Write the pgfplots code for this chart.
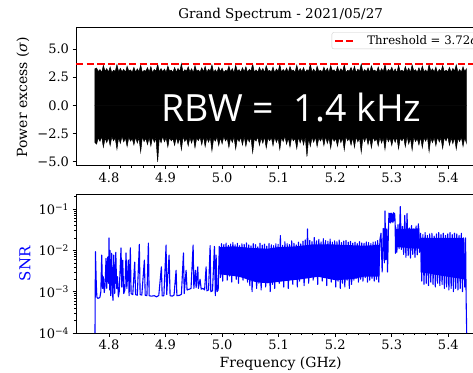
\documentclass[border=0pt]{standalone}
\usepackage{fontspec}
\setmainfont{DejaVu Serif}
\newfontfamily\rbwfont{Open Sans}
\usepackage{pgfplots}
\pgfplotsset{compat=1.18}
\usepackage{pgfplotstable}

\pgfplotstableread{
x u l
4.775 3.25 -3.30
4.778 3.32 -3.45
4.781 3.00 -2.88
4.784 3.18 -3.20
4.787 2.92 -2.78
4.790 3.55 -3.72
4.793 3.04 -2.92
4.796 3.26 -3.31
4.799 2.97 -2.85
4.802 3.41 -3.58
4.805 2.90 -2.80
4.808 3.12 -3.15
4.811 3.02 -2.90
4.814 3.62 -3.90
4.817 2.96 -2.84
4.820 3.29 -3.38
4.823 2.99 -2.76
4.826 3.20 -3.25
4.829 2.93 -2.89
4.832 3.47 -3.66
4.835 3.05 -2.83
4.838 3.15 -3.18
4.841 2.94 -2.95
4.844 3.38 -3.52
4.847 2.95 -2.82
4.850 3.24 -3.35
4.853 3.00 -2.88
4.856 3.58 -4.15
4.859 2.92 -2.78
4.862 3.11 -3.22
4.865 3.04 -2.92
4.868 3.35 -3.48
4.871 2.97 -2.85
4.874 3.44 -3.62
4.877 2.90 -2.80
4.880 3.19 -3.28
4.883 3.02 -2.90
4.886 3.66 -5.02
4.889 2.96 -2.84
4.892 3.27 -3.33
4.895 2.99 -2.76
4.898 3.22 -3.24
4.901 2.93 -2.89
4.904 3.50 -3.70
4.907 3.05 -2.83
4.910 3.13 -3.16
4.913 2.94 -2.95
4.916 3.36 -3.55
4.919 2.95 -2.82
4.922 3.28 -3.40
4.925 3.00 -2.88
4.928 3.70 -3.95
4.931 2.92 -2.78
4.934 3.17 -3.21
4.937 3.04 -2.92
4.940 3.42 -3.60
4.943 2.97 -2.85
4.946 3.25 -3.36
4.949 2.90 -2.80
4.952 3.53 -3.78
4.955 3.02 -2.90
4.958 3.14 -3.14
4.961 2.96 -2.84
4.964 3.33 -3.50
4.967 2.99 -2.76
4.970 3.46 -3.68
4.973 2.93 -2.89
4.976 3.21 -3.27
4.979 3.05 -2.83
4.982 3.60 -4.05
4.985 2.94 -2.95
4.988 3.16 -3.19
4.991 2.95 -2.82
4.994 3.39 -3.57
4.997 3.00 -2.88
5.000 3.30 -3.42
5.003 2.92 -2.78
5.006 3.12 -3.17
5.009 3.04 -2.92
5.012 3.49 -3.75
5.015 2.97 -2.85
5.018 3.26 -3.30
5.021 2.90 -2.80
5.024 3.57 -3.88
5.027 3.02 -2.90
5.030 3.18 -3.23
5.033 2.96 -2.84
5.036 3.34 -3.53
5.039 2.99 -2.76
5.042 3.43 -3.64
5.045 2.93 -2.89
5.048 3.20 -3.26
5.051 3.05 -2.83
5.054 3.68 -4.20
5.057 2.94 -2.95
5.060 3.15 -3.18
5.063 2.95 -2.82
5.066 3.37 -3.56
5.069 3.00 -2.88
5.072 3.28 -3.37
5.075 2.92 -2.78
5.078 3.52 -3.80
5.081 3.04 -2.92
5.084 3.12 -3.15
5.087 2.97 -2.85
5.090 3.40 -3.59
5.093 2.90 -2.80
5.096 3.23 -3.29
5.099 3.02 -2.90
5.102 3.61 -3.92
5.105 2.96 -2.84
5.108 3.19 -3.22
5.111 2.99 -2.76
5.114 3.31 -3.46
5.117 2.93 -2.89
5.120 3.45 -3.71
5.123 3.05 -2.83
5.126 3.14 -3.16
5.129 2.94 -2.95
5.132 3.56 -3.85
5.135 2.95 -2.82
5.138 3.27 -3.34
5.141 3.00 -2.88
5.144 3.35 -3.51
5.147 2.92 -2.78
5.150 3.17 -4.55
5.153 3.04 -2.92
5.156 3.64 -3.64
5.159 2.97 -2.85
5.162 3.22 -3.28
5.165 2.90 -2.80
5.168 3.48 -3.67
5.171 3.02 -2.90
5.174 3.13 -3.17
5.177 2.96 -2.84
5.180 3.39 -3.58
5.183 2.99 -2.76
5.186 3.29 -3.39
5.189 2.93 -2.89
5.192 3.54 -3.82
5.195 3.05 -2.83
5.198 3.16 -3.20
5.201 2.94 -2.95
5.204 3.44 -3.63
5.207 2.95 -2.82
5.210 3.25 -3.32
5.213 3.00 -2.88
5.216 3.59 -3.97
5.219 2.92 -2.78
5.222 3.11 -3.15
5.225 3.04 -2.92
5.228 3.36 -3.54
5.231 2.97 -2.85
5.234 3.47 -3.74
5.237 2.90 -2.80
5.240 3.21 -3.25
5.243 3.02 -2.90
5.246 3.66 -4.18
5.249 2.96 -2.84
5.252 3.18 -3.23
5.255 2.99 -2.76
5.258 3.33 -3.49
5.261 2.93 -2.89
5.264 3.51 -3.79
5.267 3.05 -2.83
5.270 3.14 -3.18
5.273 2.94 -2.95
5.276 3.41 -3.61
5.279 2.95 -2.82
5.282 3.26 -3.35
5.285 3.00 -2.88
5.288 3.62 -3.93
5.291 2.92 -2.78
5.294 3.19 -3.24
5.297 3.04 -2.92
5.300 3.38 -3.57
5.303 2.97 -2.85
5.306 3.23 -3.30
5.309 2.90 -2.80
5.312 3.55 -3.86
5.315 3.02 -2.90
5.318 3.12 -3.16
5.321 2.96 -2.84
5.324 3.45 -3.69
5.327 2.99 -2.76
5.330 3.30 -3.44
5.333 2.93 -2.89
5.336 3.58 -3.99
5.339 3.05 -2.83
5.342 3.17 -3.22
5.345 2.94 -2.95
5.348 3.34 -3.52
5.351 2.95 -2.82
5.354 3.49 -3.77
5.357 3.00 -2.88
5.360 3.15 -3.19
5.363 2.92 -2.78
5.366 3.63 -4.12
5.369 3.04 -2.92
5.372 3.24 -3.31
5.375 2.97 -2.85
5.378 3.40 -3.60
5.381 2.90 -2.80
5.384 3.20 -3.26
5.387 3.02 -2.90
5.390 3.53 -3.83
5.393 2.96 -2.84
5.396 3.13 -3.17
5.399 2.99 -2.76
5.402 3.37 -3.55
5.405 2.93 -2.89
5.408 3.28 -3.41
5.411 3.05 -2.83
5.414 3.60 -3.90
5.417 2.94 -2.95
5.420 3.18 -3.22
5.423 2.95 -2.82
5.426 3.43 -3.65
5.429 3.00 -2.88
5.432 3.25 -3.36
}\topdata

\pgfplotstableread{
x y
4.7752 1.0e-4
4.7760 9.3e-3
4.7775 1.5e-3
4.7785 7.5e-4
4.7800 6.9e-4
4.7820 7.0e-4
4.7840 7.4e-4
4.7855 1.0e-3
4.7871 7.7e-3
4.7885 1.2e-3
4.7900 2.3e-3
4.7915 9.5e-4
4.7930 1.4e-3
4.7947 6.4e-3
4.7960 1.2e-3
4.7976 6.9e-3
4.7990 1.6e-3
4.8000 2.0e-2
4.8012 1.1e-3
4.8018 1.0e-2
4.8030 8.0e-4
4.8047 8.5e-3
4.8060 1.0e-3
4.8070 6.2e-4
4.8083 7.7e-3
4.8100 9.0e-4
4.8120 9.0e-3
4.8135 1.2e-3
4.8150 2.3e-3
4.8165 7.5e-4
4.8180 1.0e-3
4.8212 1.15e-2
4.8225 1.3e-3
4.8242 5.8e-3
4.8260 9.0e-4
4.8280 1.1e-3
4.8301 8.7e-3
4.8315 1.2e-3
4.8342 5.8e-3
4.8355 8.0e-4
4.8377 1.15e-2
4.8390 9.0e-4
4.8420 8.5e-4
4.8454 5.2e-3
4.8470 8.5e-4
4.8500 8.2e-4
4.8536 1.4e-2
4.8550 8.5e-4
4.8580 8.3e-4
4.8625 5.8e-3
4.8640 8.2e-4
4.8670 8.0e-4
4.8696 1.5e-2
4.8710 8.0e-4
4.8750 7.8e-4
4.8800 8.0e-4
4.8840 7.5e-4
4.8880 8.1e-4
4.8926 4.0e-3
4.8940 7.9e-4
4.8970 8.0e-4
4.9009 1.35e-2
4.9020 8.5e-4
4.9062 7.7e-3
4.9080 8.0e-4
4.9120 7.8e-4
4.9150 8.3e-4
4.9186 3.3e-3
4.9200 8.0e-4
4.9250 8.2e-4
4.9280 8.6e-4
4.9316 8.7e-3
4.9330 9.0e-4
4.9363 3.3e-3
4.9380 1.1e-3
4.9420 1.15e-3
4.9450 1.2e-3
4.9487 1.35e-2
4.9500 1.2e-3
4.9528 3.3e-3
4.9540 1.25e-3
4.9570 4.0e-3
4.9580 1.2e-3
4.9610 2.0e-3
4.9630 1.15e-3
4.9660 1.2e-3
4.9690 1.1e-3
4.9717 4.0e-3
4.9730 1.05e-3
4.9760 1.1e-3
4.9788 1.3e-2
4.9800 1.0e-3
4.9830 1.05e-3
4.9864 1.25e-2
4.9880 8.0e-4
4.9894 7.7e-3
4.9910 1.0e-3
4.9930 1.1e-3
4.995 1.25e-2
4.997 2.2e-3
4.999 1.45e-2
5.001 1.8e-3
5.003 1.38e-2
5.005 2.6e-3
5.007 1.50e-2
5.009 1.9e-3
5.011 1.32e-2
5.013 2.4e-3
5.015 1.42e-2
5.017 1.7e-3
5.019 1.55e-2
5.021 2.8e-3
5.023 1.36e-2
5.025 2.0e-3
5.027 1.48e-2
5.029 1.6e-3
5.031 1.30e-2
5.033 2.5e-3
5.035 1.44e-2
5.037 1.9e-3
5.039 1.40e-2
5.041 2.3e-3
5.043 1.52e-2
5.045 1.7e-3
5.047 1.35e-2
5.049 1.4e-3
5.051 1.28e-2
5.053 1.0e-3
5.055 1.46e-2
5.057 1.9e-3
5.059 1.38e-2
5.061 1.2e-3
5.063 1.22e-2
5.065 1.6e-3
5.067 1.50e-2
5.069 1.1e-3
5.071 1.33e-2
5.073 2.0e-3
5.075 1.42e-2
5.077 1.3e-3
5.079 1.26e-2
5.081 1.8e-3
5.083 1.47e-2
5.085 1.0e-3
5.087 1.36e-2
5.089 1.5e-3
5.091 1.30e-2
5.093 1.2e-3
5.095 1.45e-2
5.097 1.9e-3
5.099 1.40e-2
5.101 1.6e-3
5.103 2.30e-2
5.105 2.2e-3
5.107 1.32e-2
5.109 1.3e-3
5.111 1.62e-2
5.113 1.9e-3
5.115 1.45e-2
5.117 1.2e-3
5.119 1.38e-2
5.121 2.4e-3
5.123 1.70e-2
5.125 1.5e-3
5.127 1.48e-2
5.129 2.0e-3
5.131 1.36e-2
5.133 1.3e-3
5.135 1.58e-2
5.137 1.8e-3
5.139 1.44e-2
5.141 2.6e-3
5.143 1.66e-2
5.145 1.4e-3
5.147 1.80e-2
5.149 2.3e-3
5.151 3.30e-2
5.153 1.6e-3
5.155 1.75e-2
5.157 2.8e-3
5.159 1.62e-2
5.161 1.9e-3
5.163 2.05e-2
5.165 2.5e-3
5.167 1.70e-2
5.169 1.5e-3
5.171 1.85e-2
5.173 3.0e-3
5.175 1.60e-2
5.177 1.8e-3
5.179 1.92e-2
5.181 2.2e-3
5.183 1.72e-2
5.185 1.4e-3
5.187 1.66e-2
5.189 2.6e-3
5.191 1.88e-2
5.193 1.7e-3
5.195 1.58e-2
5.197 2.1e-3
5.199 1.70e-2
5.201 1.3e-3
5.203 1.62e-2
5.205 1.8e-3
5.207 1.78e-2
5.209 1.2e-3
5.211 1.55e-2
5.213 1.6e-3
5.215 1.68e-2
5.217 1.3e-3
5.219 1.74e-2
5.221 1.9e-3
5.223 1.58e-2
5.225 1.2e-3
5.227 1.65e-2
5.229 1.5e-3
5.231 1.50e-2
5.233 1.9e-3
5.235 1.58e-2
5.237 2.1e-3
5.239 1.45e-2
5.241 1.7e-3
5.243 1.62e-2
5.245 2.0e-3
5.247 1.52e-2
5.249 1.8e-3
5.251 1.48e-2
5.253 2.2e-3
5.255 1.60e-2
5.257 1.7e-3
5.259 1.55e-2
5.261 1.9e-3
5.263 1.46e-2
5.265 2.1e-3
5.267 1.58e-2
5.269 1.8e-3
5.271 1.62e-2
5.273 2.0e-3
5.275 1.72e-2
5.277 1.7e-3
5.279 1.80e-2
5.281 2.6e-2
5.283 3.0e-3
5.285 3.4e-2
5.287 5.0e-3
5.288 9.0e-2
5.2895 6.0e-3
5.291 3.3e-2
5.2925 3.0e-3
5.294 2.8e-2
5.295 8.0e-2
5.296 4.8e-2
5.297 7.8e-2
5.298 4.6e-2
5.299 8.0e-2
5.300 5.0e-2
5.301 7.6e-2
5.302 4.7e-2
5.303 8.2e-2
5.304 5.2e-2
5.305 7.9e-2
5.306 4.9e-2
5.3065 8.5e-3
5.307 3.6e-2
5.309 9.0e-3
5.311 4.2e-2
5.313 1.1e-2
5.315 1.15e-1
5.317 1.05e-2
5.319 3.8e-2
5.321 8.0e-3
5.323 7.0e-2
5.325 6.8e-3
5.327 7.8e-2
5.329 7.5e-3
5.331 3.5e-2
5.333 6.5e-3
5.335 4.0e-2
5.337 8.0e-3
5.339 3.3e-2
5.341 6.8e-3
5.343 3.9e-2
5.345 7.8e-3
5.347 4.4e-2
5.349 9.0e-3
5.351 2.6e-2
5.353 1.8e-3
5.355 2.4e-2
5.357 1.5e-3
5.359 2.7e-2
5.361 1.6e-3
5.363 2.3e-2
5.365 1.4e-3
5.367 2.5e-2
5.369 1.7e-3
5.371 2.6e-2
5.373 1.5e-3
5.375 2.2e-2
5.377 1.3e-3
5.379 2.5e-2
5.381 1.6e-3
5.383 2.7e-2
5.385 1.4e-3
5.387 2.4e-2
5.389 1.5e-3
5.391 2.6e-2
5.393 1.2e-3
5.395 2.3e-2
5.397 1.3e-3
5.399 2.5e-2
5.401 1.1e-3
5.403 2.7e-2
5.405 1.2e-3
5.407 2.4e-2
5.409 1.0e-3
5.411 2.6e-2
5.413 1.2e-3
5.415 2.5e-2
5.417 1.1e-3
5.419 2.3e-2
5.421 1.2e-3
5.423 2.6e-2
5.425 1.0e-3
5.427 2.0e-2
5.429 1.3e-3
5.4305 2.0e-2
5.4315 6.3e-4
5.4325 1.0e-4
}\snrdata

\pgfplotsset{
  myaxis/.style={
    scale only axis, width=409.3pt, height=138.4pt, anchor=south west,
    xmin=4.7416, xmax=5.4654,
    axis line style={line width=0.8pt},
    tick align=outside, xtick pos=left, ytick pos=left,
    major tick length=3.5pt, minor tick length=2pt,
    every tick/.append style={black, line width=0.8pt},
    every minor tick/.append style={black, line width=0.6pt},
    xtick={4.8,4.9,5.0,5.1,5.2,5.3,5.4},
    xticklabels={4.8,4.9,5.0,5.1,5.2,5.3,5.4},
    minor x tick num=4,
    tick label style={font=\fontsize{13}{15}\selectfont},
    label style={font=\fontsize{14}{16}\selectfont},
  }
}

\begin{document}
\begin{tikzpicture}
\begin{axis}[myaxis,
  at={(76pt,206.3pt)},
  ymin=-5.37, ymax=6.94,
  ytick={-5,-2.5,0,2.5,5},
  yticklabels={−5.0,−2.5,0.0,2.5,5.0},
  title={Grand Spectrum - 2021/05/27},
  title style={at={(0.5,1)}, anchor=base, yshift=2.5pt, font=\fontsize{13.5}{15}\selectfont},
  ylabel={Power excess (\textit{σ})},
  ylabel style={at={(axis description cs:-0.130,0.495)}, anchor=center},
  legend style={at={(axis description cs:0.6246,0.9639)}, anchor=north west,
    draw=black!20, rounded corners=2pt, fill=white,
    font=\fontsize{11.7}{14}\selectfont, inner xsep=2.5pt, inner ysep=1.5pt,
    nodes={inner sep=1.5pt}, column sep=8.5pt},
  legend image code/.code={\draw[#1] (0pt,0pt) -- (21pt,0pt);},
]
\addplot[fill=black, draw=black, line width=0.5pt, forget plot] table[x=x, y=u] {\topdata} \closedcycle;
\addplot[fill=black, draw=black, line width=0.5pt, forget plot] table[x=x, y=l] {\topdata} \closedcycle;
\addplot[red, line width=2pt, dash pattern=on 7.4pt off 3.2pt] coordinates {(4.7416,3.72) (5.4654,3.72)};
\addlegendentry{Threshold = 3.72\textit{σ}}
\node[anchor=base west, inner sep=0pt, text=white, font=\rbwfont\fontsize{37.5}{42}\selectfont] at (axis cs:4.8920,-1.40) {RBW =\ \ 1.4 kHz};
\end{axis}
\begin{axis}[myaxis,
  at={(76pt,39pt)},
  ymode=log, ymin=1e-4, ymax=0.224,
  ytick={1e-4,1e-3,1e-2,1e-1},
  yticklabels={10\textsuperscript{−4},10\textsuperscript{−3},10\textsuperscript{−2},10\textsuperscript{−1}},
  minor ytick={2e-4,3e-4,4e-4,5e-4,6e-4,7e-4,8e-4,9e-4,2e-3,3e-3,4e-3,5e-3,6e-3,7e-3,8e-3,9e-3,2e-2,3e-2,4e-2,5e-2,6e-2,7e-2,8e-2,9e-2,2e-1},
  xlabel={Frequency (GHz)},
  xlabel style={at={(axis description cs:0.5,-0.222)}, anchor=center},
  ylabel={SNR},
  ylabel style={at={(axis description cs:-0.1246,0.5)}, anchor=center, text=blue, font=\fontsize{15}{17}\selectfont},
]
% dense parts of the trace, read as filled envelopes
\addplot[fill=blue, draw=none, forget plot] coordinates {
(4.9955,1.2e-2) (5.02,1.25e-2) (5.05,1.15e-2) (5.08,1.1e-2) (5.10,1.2e-2) (5.13,1.25e-2)
(5.16,1.4e-2) (5.19,1.4e-2) (5.22,1.35e-2) (5.25,1.3e-2) (5.278,1.35e-2)
(5.278,2.3e-3) (5.25,2.3e-3) (5.23,2.0e-3) (5.20,1.9e-3) (5.17,2.3e-3) (5.14,2.0e-3)
(5.11,1.8e-3) (5.08,1.6e-3) (5.06,1.7e-3) (5.03,2.3e-3) (5.00,2.6e-3) (4.9955,2.6e-3)} -- cycle;
\addplot[fill=blue, draw=none, forget plot] coordinates {
(5.295,7.5e-2) (5.306,7.5e-2) (5.306,5.2e-2) (5.295,5.2e-2)} -- cycle;
\addplot[fill=blue, draw=none, forget plot] coordinates {
(5.307,3.3e-2) (5.349,3.4e-2) (5.349,1.1e-2) (5.307,1.2e-2)} -- cycle;
\addplot[fill=blue, draw=none, forget plot] coordinates {
(5.351,2.0e-2) (5.428,2.0e-2) (5.428,2.0e-3) (5.39,2.4e-3) (5.351,3.0e-3)} -- cycle;
\addplot[blue, line width=1.1pt, line join=round] table[x=x, y=y] {\snrdata};
\end{axis}
\pgfresetboundingbox
\useasboundingbox (0pt,0pt) rectangle (473pt,372pt);
\end{tikzpicture}
\end{document}
